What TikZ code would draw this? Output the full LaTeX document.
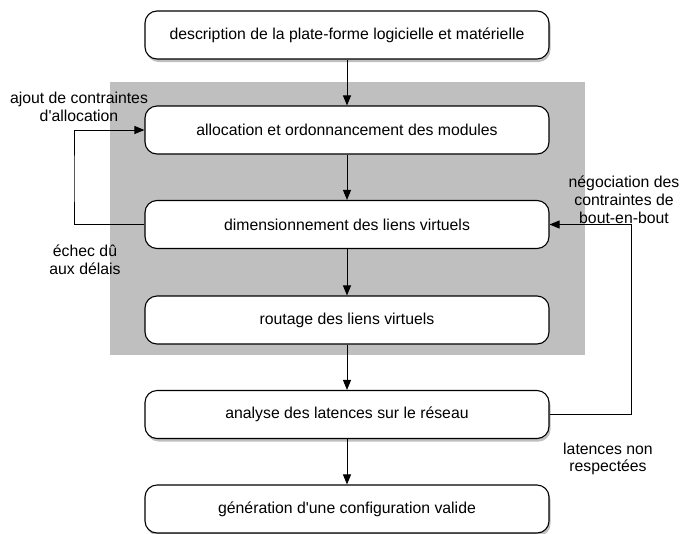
\documentclass[tikz,border=0pt]{standalone}
\usepackage{fontspec}
\newfontfamily\hv{Liberation Sans}
\usetikzlibrary{arrows.meta,shadows}
\begin{document}
\begin{tikzpicture}[x=1pt,y=-1pt,
  box/.style={draw=black,line width=1.1pt,rounded corners=12pt,fill=white,minimum width=404pt,minimum height=48pt,inner sep=0pt,font=\hv\fontsize{15.8}{18}\selectfont},
  shbox/.style={box,drop shadow={shadow xshift=1.5pt,shadow yshift=-3pt,opacity=0.5}},
  arr/.style={line width=0.9pt,-{Triangle[length=10pt,width=8pt]}},
  lbl/.style={align=center,font=\hv\fontsize{15.8}{17.8}\selectfont,inner sep=0pt}]
\useasboundingbox (0,0) rectangle (684,533);
\fill[white] (0,0) rectangle (684,533);
\fill[black!25] (110,82) rectangle (585,355);
\node[shbox] (b1) at (347,35) {description de la plate-forme logicielle et matérielle};
\node[box] (b2) at (347,130) {allocation et ordonnancement des modules};
\node[box] (b3) at (347,224.5) {dimensionnement des liens virtuels};
\node[box] (b4) at (347,320) {routage des liens virtuels};
\node[shbox] (b5) at (347,414.5) {analyse des latences sur le réseau};
\node[shbox] (b6) at (347,509) {génération d'une configuration valide};
\draw[arr] (b1) -- (b2);
\draw[arr] (b2) -- (b3);
\draw[arr] (b3) -- (b4);
\draw[arr] (b4) -- (b5);
\draw[arr] (b5) -- (b6);
\coordinate (lc) at (74,180);
\coordinate (rc) at (631,300);
\draw[arr] (b3.west) -| (lc) |- (b2.west);
\draw[arr] (b5.east) -| (rc) |- (b3.east);
\node[lbl] (l1) at (79,107) {ajout de contraintes\\d'allocation};
\node[lbl] (l2) at (85,260) {échec dû\\aux délais};
\node[lbl] (l3) at (624,200) {négociation des\\contraintes de\\bout-en-bout};
\node[lbl] (l4) at (608,459) {latences non\\respectées};
\end{tikzpicture}
\end{document}
